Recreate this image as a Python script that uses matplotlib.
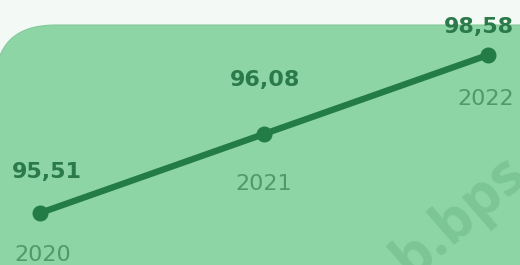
import numpy as np
import matplotlib
matplotlib.use("Agg")
import matplotlib.pyplot as plt
from matplotlib.patches import FancyBboxPatch

years = ["2020", "2021", "2022"]
values = [95.51, 96.08, 98.58]
value_labels = ["95,51", "96,08", "98,58"]

# label offsets in pixels (style only)
val_off = [(7, 41), (1, 54), (-9, 28)]
year_off = [(3, -42), (0, -50), (-2, -44)]

vals = np.array(values)
ranks = np.arange(len(vals), dtype=float)


def fwd(v):
    v = np.asarray(v, dtype=float)
    mid = np.interp(v, vals, ranks)
    lo = (v - vals[0]) / (vals[1] - vals[0])
    hi = ranks[-1] + (v - vals[-1]) / (vals[-1] - vals[-2])
    return np.where(v < vals[0], lo, np.where(v > vals[-1], hi, mid))


def inv(r):
    r = np.asarray(r, dtype=float)
    mid = np.interp(r, ranks, vals)
    lo = vals[0] + r * (vals[1] - vals[0])
    hi = vals[-1] + (r - ranks[-1]) * (vals[-1] - vals[-2])
    return np.where(r < 0, lo, np.where(r > ranks[-1], hi, mid))


W, H = 5.2, 2.65
fig = plt.figure(figsize=(W, H), dpi=100)
fig.patch.set_facecolor("#f3faf5")

panel = FancyBboxPatch((-0.05, -1.0), 7.0, 3.40,
                       boxstyle="round,pad=0,rounding_size=0.6",
                       transform=fig.dpi_scale_trans,
                       facecolor="#8dd5a5", edgecolor="#86c89c",
                       linewidth=0.8, zorder=-5)
fig.patches.append(panel)

ax = fig.add_axes([0, 0, 1, 1], zorder=2)
ax.set_facecolor("none")
ax.set_yscale("function", functions=(fwd, inv))
x = np.arange(len(years))

# watermark
ax.text(410 / 520, -14 / 265, "b.bps.go.id", transform=ax.transAxes,
        rotation=41, rotation_mode="anchor", ha="left", va="baseline",
        fontsize=42, fontweight="bold", color="#7cc594", zorder=1,
        family="Open Sans", clip_on=True)

ax.plot(x, values, color="#237b45", lw=4.6, marker="o", ms=10.5,
        solid_capstyle="round", zorder=3)

for i in range(len(years)):
    ax.annotate(value_labels[i], (x[i], values[i]),
                xytext=(val_off[i][0] * 0.72, val_off[i][1] * 0.72),
                textcoords="offset points", ha="center", va="center",
                fontsize=16, fontweight="bold", color="#2b7a4a", zorder=4)
    ax.annotate(years[i], (x[i], values[i]),
                xytext=(year_off[i][0] * 0.72, year_off[i][1] * 0.72),
                textcoords="offset points", ha="center", va="center",
                fontsize=16, color="#4f9a68", zorder=4)

ax.set_xlim(-40 / 224, 2 + 32 / 224)
ax.set_ylim(float(inv(-0.658)), float(inv(2.696)))
ax.axis("off")

fig.savefig("out.png", dpi=100, facecolor=fig.get_facecolor())
